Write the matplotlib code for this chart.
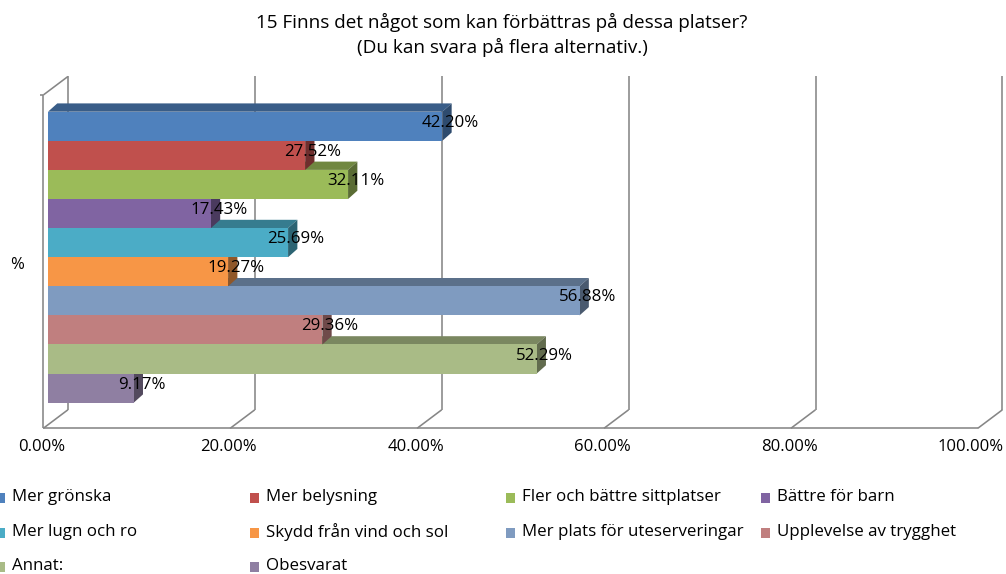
import matplotlib
matplotlib.use("Agg")
import matplotlib.pyplot as plt
from matplotlib.patches import Polygon, Rectangle
from matplotlib.colors import to_rgb

# ---------------- data ----------------
title_lines = ["15 Finns det något som kan förbättras på dessa platser?",
               "(Du kan svara på flera alternativ.)"]
categories = ["Mer grönska", "Mer belysning", "Fler och bättre sittplatser",
              "Bättre för barn", "Mer lugn och ro", "Skydd från vind och sol",
              "Mer plats för uteserveringar", "Upplevelse av trygghet",
              "Annat:", "Obesvarat"]
values = [42.20, 27.52, 32.11, 17.43, 25.69, 19.27, 56.88, 29.36, 52.29, 9.17]
colors = ["#4F81BD", "#C0504D", "#9BBB59", "#8064A2", "#4BACC6", "#F79646",
          "#7F9BC0", "#C07F7F", "#A9BB86", "#8F7FA2"]
x_ticks = [0, 20, 40, 60, 80, 100]
x_tick_labels = ["0.00%", "20.00%", "40.00%", "60.00%", "80.00%", "100.00%"]
y_label = "%"

# ---------------- layout ----------------
W, H, DPI = 1006, 574, 100
FONT = "Open Sans"
GRID = "#868686"

fig = plt.figure(figsize=(W / DPI, H / DPI), dpi=DPI)
fig.patch.set_facecolor("white")

x0_px, x100_px = 43.3, 977.8
sx = (x100_px - x0_px) / 100.0      # px per percent
bar_top_px, bar_h_px = 111.7, 29.1
floor_px, top_px = 428.3, 76.0

def ydata(px):
    return (px - bar_top_px) / bar_h_px - 0.5

ax = fig.add_axes([x0_px / W, 1 - floor_px / H,
                   (x100_px - x0_px) / W, (floor_px - top_px) / H])
ax.set_xlim(0, 100)
ax.set_ylim(ydata(floor_px), ydata(top_px))
ax.axis("off")

def px_x(d):
    return d / sx

def px_y(d):
    return d / bar_h_px

# wall depth
DX = px_x(24.6)
DY = px_y(18.5)
y_floor = ydata(floor_px)
y_wall_front_top = ydata(95.0)
y_back_top = ydata(top_px)

lw = 1.15
kw = dict(color=GRID, lw=lw, clip_on=False, zorder=1, solid_capstyle="butt")
ax.plot([0, 100], [y_floor, y_floor], **kw)
for t in x_ticks:
    ax.plot([t, t + DX], [y_floor, y_floor - DY], **kw)
    ax.plot([t + DX, t + DX], [y_floor - DY, y_back_top], **kw)
ax.plot([0, 0], [y_floor, y_wall_front_top], **kw)
ax.plot([0, DX], [y_wall_front_top, y_wall_front_top - DY], **kw)
ax.plot([-px_x(3.5), 0], [y_wall_front_top, y_wall_front_top], **kw)

# ---------------- bars ----------------
bar_left = px_x(4.7)
bdx = px_x(9.3)
bdy = px_y(8.3)
n = len(values)
ypos = list(range(n))

def shade(c, f):
    r, g, b = to_rgb(c)
    return (r * f, g * f, b * f)

bars = ax.barh(ypos, values, left=bar_left, height=1.0, color=colors,
               linewidth=0)
for i, (rect, v, c) in enumerate(zip(bars, values, colors)):
    base = 10 + (n - 1 - i)
    top = i - 0.5
    bot = i + 0.5
    x1 = bar_left + v
    top_face = Polygon([(bar_left, top), (bar_left + bdx, top - bdy),
                        (x1 + bdx, top - bdy), (x1, top)],
                       closed=True, facecolor=shade(c, 0.72), edgecolor="none",
                       zorder=base)
    side_face = Polygon([(x1, top), (x1 + bdx, top - bdy),
                         (x1 + bdx, bot - bdy), (x1, bot)],
                        closed=True, facecolor=shade(c, 0.58), edgecolor="none",
                        zorder=base)
    ax.add_patch(top_face)
    ax.add_patch(side_face)
    rect.set_zorder(base + 0.5)
    ax.text(x1 + bdx - px_x(1.5), i - px_y(3.5), f"{v:.2f}%", ha="center",
            va="center", fontsize=12.2, family=FONT, color="black", zorder=100)

# ---------------- ticks ----------------
for k, (t, lab) in enumerate(zip(x_ticks, x_tick_labels)):
    if k == len(x_ticks) - 1:
        ax.text(t + px_x(26), ydata(447.0), lab, ha="right", va="center",
                fontsize=12, family=FONT, color="black", clip_on=False)
    else:
        ax.text(t - px_x(1.5), ydata(447.0), lab, ha="center", va="center",
                fontsize=12, family=FONT, color="black", clip_on=False)

fig.text(17 / W, 1 - 265 / H, y_label, ha="center", va="center",
         fontsize=12, family=FONT)

# ---------------- title ----------------
fig.text(502 / W, 1 - 22 / H, title_lines[0], ha="center", va="center",
         fontsize=13.6, family=FONT)
fig.text(502 / W, 1 - 47 / H, title_lines[1], ha="center", va="center",
         fontsize=13.6, family=FONT)

# ---------------- legend ----------------
col_x = [-4, 250, 506, 761]
row_y = [498, 533, 567]
for k, (lab, c) in enumerate(zip(categories, colors)):
    r, col = divmod(k, 4)
    mx = col_x[col]
    my = row_y[r]
    fig.patches.append(Rectangle((mx / W, 1 - (my + 5) / H),
                                 8.5 / W, 10 / H, transform=fig.transFigure,
                                 facecolor=c, edgecolor="none"))
    fig.text((mx + 16) / W, 1 - (my - 1) / H, lab,
             ha="left", va="center", fontsize=12.2, family=FONT)

fig.savefig("out.png", dpi=DPI, facecolor="white")
